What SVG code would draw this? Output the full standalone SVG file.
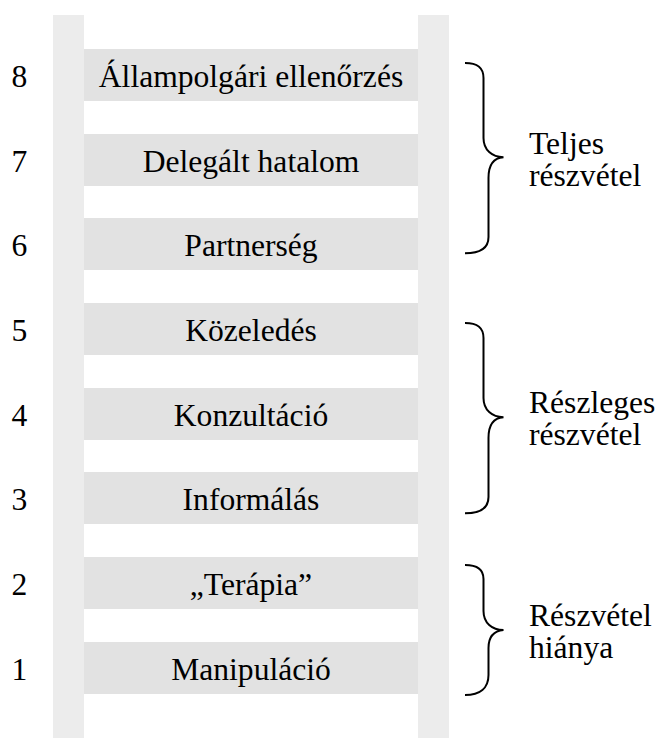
<svg xmlns="http://www.w3.org/2000/svg" width="660" height="738" viewBox="0 0 660 738">
<style>
.rail{fill:#ececec}
.rung{fill:#e2e2e2}
.t{font-family:"Liberation Serif","Times New Roman",serif;font-size:31.6px;fill:#000}
.c{text-anchor:middle}
.brace{fill:none;stroke:#000;stroke-width:2}
</style>
<rect class="rail" x="53" y="15" width="31" height="723"/>
<rect class="rail" x="418" y="15" width="31" height="723"/>
<g id="rung8"><rect class="rung" x="84" y="49" width="334" height="52"/><text class="t c" x="251" y="86.5">Állampolgári ellenőrzés</text><text class="t c" x="19.5" y="86.5">8</text></g>
<g id="rung7"><rect class="rung" x="84" y="134" width="334" height="52"/><text class="t c" x="251" y="171.5">Delegált hatalom</text><text class="t c" x="19.5" y="171.5">7</text></g>
<g id="rung6"><rect class="rung" x="84" y="218" width="334" height="52"/><text class="t c" x="251" y="255.5">Partnerség</text><text class="t c" x="19.5" y="255.5">6</text></g>
<g id="rung5"><rect class="rung" x="84" y="303" width="334" height="52"/><text class="t c" x="251" y="340.5">Közeledés</text><text class="t c" x="19.5" y="340.5">5</text></g>
<g id="rung4"><rect class="rung" x="84" y="388" width="334" height="52"/><text class="t c" x="251" y="425.5">Konzultáció</text><text class="t c" x="19.5" y="425.5">4</text></g>
<g id="rung3"><rect class="rung" x="84" y="472" width="334" height="52"/><text class="t c" x="251" y="509.5">Informálás</text><text class="t c" x="19.5" y="509.5">3</text></g>
<g id="rung2"><rect class="rung" x="84" y="557" width="334" height="52"/><text class="t c" x="251" y="594.5">„Terápia”</text><text class="t c" x="19.5" y="594.5">2</text></g>
<g id="rung1"><rect class="rung" x="84" y="642" width="334" height="52"/><text class="t c" x="251" y="679.5">Manipuláció</text><text class="t c" x="19.5" y="679.5">1</text></g>
<g id="connectors">
<path class="brace" d="M465,63 C477,63 483.5,67 483.5,78 L483.5,138 C483.5,150 492,157 503.5,157.3 C493,158 488.5,165 488.5,178 L488.5,237 C488.5,248 480,253.3 465,253.3"/>
<path class="brace" d="M465,323 C477,323 483.5,327 483.5,338 L483.5,398 C483.5,410 492,417 503.5,417.3 C493,418 488.5,425 488.5,438 L488.5,497 C488.5,508 480,513.3 465,513.3"/>
<path class="brace" d="M465,565 C477,565 483.5,569 483.5,579 L483.5,611 C483.5,623 492,630 503.5,630 C493,631 488.5,637 488.5,648 L488.5,675 C488.5,688 480,695 465,695"/>
</g>
<g id="group-teljes"><text class="t" x="529" y="154">Teljes</text><text class="t" x="529" y="186">részvétel</text></g>
<g id="group-reszleges"><text class="t" x="529" y="413">Részleges</text><text class="t" x="529" y="445">részvétel</text></g>
<g id="group-hiany"><text class="t" x="529" y="626">Részvétel</text><text class="t" x="529" y="658">hiánya</text></g>
</svg>
